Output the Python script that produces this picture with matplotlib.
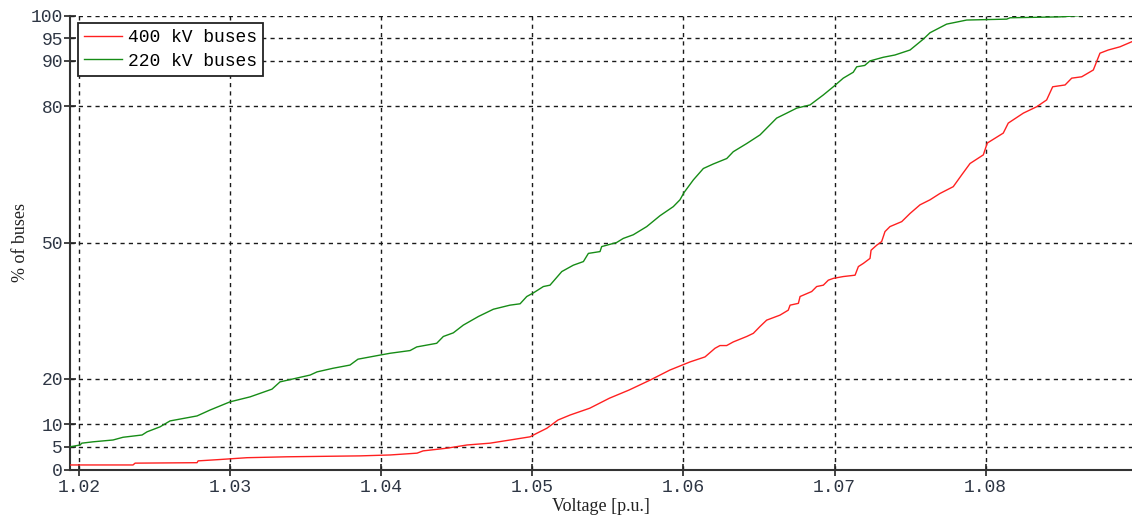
import matplotlib
matplotlib.use("Agg")
import matplotlib.pyplot as plt

# Cumulative distribution of bus voltages (percentage of buses at or below a voltage)
volt_400 = [1.01940, 1.02357, 1.02371, 1.02781, 1.02788, 1.02933, 1.03112, 1.03377,
            1.03860, 1.04058, 1.04237, 1.04277, 1.04436, 1.04568, 1.04720, 1.04872,
            1.04985, 1.05031, 1.05097, 1.05170, 1.05250, 1.05380, 1.05510, 1.05640,
            1.05780, 1.05910, 1.06044, 1.06143, 1.06209, 1.06242, 1.06286, 1.06330,
            1.06419, 1.06463, 1.06507, 1.06551, 1.06639, 1.06694, 1.06706, 1.06761,
            1.06772, 1.06849, 1.06882, 1.06926, 1.06959, 1.06992, 1.07058, 1.07136,
            1.07158, 1.07191, 1.07235, 1.07242, 1.07279, 1.07312, 1.07334, 1.07367,
            1.07445, 1.07500, 1.07566, 1.07632, 1.07698, 1.07786, 1.07842, 1.07897,
            1.07985, 1.08011, 1.08117, 1.08150, 1.08250, 1.08338, 1.08404, 1.08444,
            1.08526, 1.08570, 1.08636, 1.08713, 1.08757, 1.08812, 1.08889, 1.08966]
pct_400 = [1.0, 1.0, 1.4, 1.5, 1.9, 2.2, 2.6, 2.8,
           3.0, 3.2, 3.6, 4.1, 4.7, 5.4, 5.8, 6.6,
           7.2, 8.0, 9.1, 10.9, 12.0, 13.5, 15.7, 17.5,
           19.7, 21.9, 23.7, 24.8, 26.7, 27.3, 27.3, 28.1,
           29.3, 30.0, 31.5, 32.9, 34.0, 35.1, 36.2, 36.6,
           38.1, 39.2, 40.3, 40.6, 41.7, 42.1, 42.5, 42.8,
           44.7, 45.4, 46.5, 48.3, 49.4, 50.2, 52.4, 53.5,
           54.6, 56.4, 58.3, 59.4, 60.8, 62.3, 64.9, 67.4,
           69.3, 71.9, 74.1, 76.3, 78.5, 79.9, 81.4, 84.3,
           84.7, 86.2, 86.5, 88.0, 91.7, 92.4, 93.1, 94.2]

volt_220 = [1.01940, 1.02007, 1.02018, 1.02093, 1.02225, 1.02291, 1.02417, 1.02450,
            1.02536, 1.02602, 1.02781, 1.02867, 1.02999, 1.03132, 1.03277, 1.03330,
            1.03529, 1.03575, 1.03681, 1.03793, 1.03846, 1.03992, 1.04058, 1.04191,
            1.04235, 1.04367, 1.04411, 1.04477, 1.04543, 1.04643, 1.04742, 1.04852,
            1.04919, 1.04963, 1.05007, 1.05073, 1.05117, 1.05195, 1.05271, 1.05338,
            1.05371, 1.05448, 1.05459, 1.05558, 1.05602, 1.05668, 1.05757, 1.05845,
            1.05933, 1.05977, 1.06004, 1.06066, 1.06132, 1.06198, 1.06287, 1.06330,
            1.06419, 1.06507, 1.06617, 1.06684, 1.06750, 1.06838, 1.06926, 1.06992,
            1.07058, 1.07124, 1.07147, 1.07200, 1.07235, 1.07323, 1.07400, 1.07500,
            1.07588, 1.07632, 1.07742, 1.07875, 1.08140, 1.08162, 1.08493, 1.08636]
pct_220 = [5.0, 5.4, 5.8, 6.1, 6.5, 7.1, 7.6, 8.3,
           9.4, 10.7, 11.8, 13.1, 14.9, 16.0, 17.7, 19.3,
           20.8, 21.5, 22.3, 23.0, 24.3, 25.2, 25.6, 26.2,
           27.0, 27.8, 29.3, 30.1, 31.8, 33.7, 35.3, 36.2,
           36.5, 38.1, 38.9, 40.3, 40.6, 43.6, 45.0, 45.8,
           47.6, 48.0, 49.1, 50.0, 50.9, 51.7, 53.5, 55.9,
           57.9, 59.4, 61.0, 63.8, 66.3, 67.3, 68.5, 70.0,
           71.8, 73.7, 77.4, 78.5, 79.6, 80.3, 82.5, 84.3,
           86.2, 87.5, 88.7, 89.0, 90.0, 90.8, 91.3, 92.4,
           94.8, 96.2, 98.1, 99.0, 99.2, 99.5, 99.7, 100.0]

x_ticks = [1.02, 1.03, 1.04, 1.05, 1.06, 1.07, 1.08]
x_tick_labels = ["1.02", "1.03", "1.04", "1.05", "1.06", "1.07", "1.08"]
y_ticks = [0, 5, 10, 20, 50, 80, 90, 95, 100]
series_labels = ["400 kV buses", "220 kV buses"]

W, H = 1132, 518
fig = plt.figure(figsize=(W / 100, H / 100), dpi=100)
ax = fig.add_axes([70 / W, (H - 469.5) / H, (W - 70) / W, 454 / H])

ax.plot(volt_400, pct_400, color="#ff2020", lw=1.0, label=series_labels[0], zorder=3)
ax.plot(volt_220, pct_220, color="#168c16", lw=1.0, label=series_labels[1], zorder=3)

ax.set_xlim(1.0194, 1.08969)
ax.set_ylim(0, 100)
ax.set_xticks(x_ticks)
ax.set_xticklabels(x_tick_labels)
ax.set_yticks(y_ticks)

ax.grid(True, color="#1a1a1a", linestyle=(0, (3.0, 3.0)), linewidth=1.0, zorder=1)
ax.set_axisbelow(True)

for side in ("top", "right"):
    ax.spines[side].set_visible(False)
for side in ("left", "bottom"):
    ax.spines[side].set_color("#333333")
    ax.spines[side].set_linewidth(1.5)

ax.tick_params(direction="inout", length=9, width=1.2, color="#222222",
               labelcolor="#2e3644")
ax.tick_params(axis="y", pad=0.5)
ax.tick_params(axis="x", pad=2)
for lab in ax.get_xticklabels() + ax.get_yticklabels():
    lab.set_fontfamily("Liberation Mono")
    lab.set_fontsize(13)

ax.set_xlabel("Voltage [p.u.]", family="Liberation Serif", fontsize=13,
              color="#222222", labelpad=2)
ax.set_ylabel("% of buses", family="Liberation Serif", fontsize=13,
              color="#222222", labelpad=1)

leg = ax.legend(loc="upper left", bbox_to_anchor=(8 / 1062, 1 - 7.5 / 454),
                borderaxespad=0, prop={"family": "Liberation Mono", "size": 13},
                fancybox=False, framealpha=1, edgecolor="#222222",
                handlelength=2.1, handletextpad=0.3, labelspacing=0.35,
                borderpad=0.35)
leg.get_frame().set_linewidth(1.3)

fig.savefig("out.png", dpi=100)
